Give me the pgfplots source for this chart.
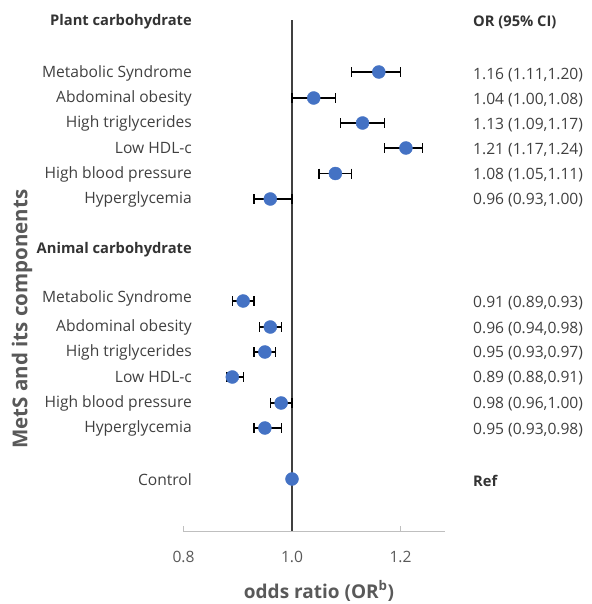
\documentclass[border=0pt]{standalone}
\usepackage{fontspec}
\setmainfont{Open Sans}
\usepackage{pgfplots}
\pgfplotsset{compat=1.18}
\usepackage{pgfplotstable}
\definecolor{dotblue}{HTML}{4472C4}
\definecolor{txt}{HTML}{404040}
\definecolor{tickc}{HTML}{595959}
\definecolor{axgray}{HTML}{BFBFBF}
\definecolor{vline}{HTML}{404040}
\newcommand\fs{\fontsize{15.6bp}{18bp}\selectfont}
\newcommand\fh{\fontsize{14.7bp}{18bp}\selectfont\bfseries}
\newcommand\fy{\fontsize{20.5bp}{23bp}\selectfont\bfseries}
\newcommand\fx{\fontsize{19bp}{22bp}\selectfont\bfseries}

\pgfplotstableread{
y or lo hi
72 1.16 1.11 1.20
98 1.04 1.00 1.08
123 1.13 1.09 1.17
148 1.21 1.17 1.24
173.5 1.08 1.05 1.11
199 0.96 0.93 1.00
}\plant
\pgfplotstableread{
y or lo hi
301 0.91 0.89 0.93
327 0.96 0.94 0.98
352 0.95 0.93 0.97
377 0.89 0.88 0.91
403 0.98 0.96 1.00
428 0.95 0.93 0.98
}\animal
\pgfplotstableread{
y or
479 1.00
}\control

\begin{document}
\begin{tikzpicture}
\useasboundingbox (-183.5bp,-73bp) rectangle (408.5bp,531bp);
\begin{axis}[
  x=542.5bp, y=1bp,
  xmin=0.8, xmax=1.282,
  ymin=-531, ymax=0,
  clip=false,
  axis x line*=bottom,
  axis y line=none,
  axis line style={axgray, line width=1bp},
  xtick={0.8,1.0,1.2},
  tick align=inside,
  major tick length=5bp,
  major tick style={axgray, line width=1bp},
  xticklabel style={font=\fs, text=tickc, anchor=base, yshift=-31bp},
  xticklabel={\pgfmathprintnumber[fixed,fixed zerofill,precision=1,assume math mode=true]{\tick}},
  ytick=\empty,
  capstyle/.style={only marks, mark=|, mark size=5bp, mark options={black, line width=1.3bp}},
  dotstyle/.style={only marks, mark=*, mark size=6.5bp, mark options={fill=dotblue, draw=dotblue}},
]
\addplot[vline, line width=1.2bp] coordinates {(1,-20) (1,-531)};
% caps
\addplot[capstyle] table[x=lo, y expr=-\thisrow{y}] {\plant};
\addplot[capstyle] table[x=hi, y expr=-\thisrow{y}] {\plant};
\addplot[capstyle] table[x=lo, y expr=-\thisrow{y}] {\animal};
\addplot[capstyle] table[x=hi, y expr=-\thisrow{y}] {\animal};
% bars + points
\addplot[dotstyle,
  error bars/.cd, x dir=both, x explicit, error mark=none, error bar style={black, line width=1.3bp}]
  table[x=or, y expr=-\thisrow{y}, x error plus expr=\thisrow{hi}-\thisrow{or}, x error minus expr=\thisrow{or}-\thisrow{lo}] {\plant};
\addplot[dotstyle,
  error bars/.cd, x dir=both, x explicit, error mark=none, error bar style={black, line width=1.3bp}]
  table[x=or, y expr=-\thisrow{y}, x error plus expr=\thisrow{hi}-\thisrow{or}, x error minus expr=\thisrow{or}-\thisrow{lo}] {\animal};
\addplot[dotstyle] table[x=or, y expr=-\thisrow{y}] {\control};

% left labels
\begin{scope}[every node/.style={anchor=east, text=txt, font=\fs, inner sep=0pt}]
\node[font=\fh, text=black!80] at (axis cs:0.8157,-22) {Plant carbohydrate};
\node at (axis cs:0.8157,-73) {Metabolic Syndrome};
\node at (axis cs:0.8157,-98) {Abdominal obesity};
\node at (axis cs:0.8157,-123) {High triglycerides};
\node at (axis cs:0.8157,-148) {Low HDL-c};
\node at (axis cs:0.8157,-174) {High blood pressure};
\node at (axis cs:0.8157,-199) {Hyperglycemia};
\node[font=\fh, text=black!80] at (axis cs:0.8157,-250) {Animal carbohydrate};
\node at (axis cs:0.8157,-298) {Metabolic Syndrome};
\node at (axis cs:0.8157,-327) {Abdominal obesity};
\node at (axis cs:0.8157,-352) {High triglycerides};
\node at (axis cs:0.8157,-377) {Low HDL-c};
\node at (axis cs:0.8157,-403) {High blood pressure};
\node at (axis cs:0.8157,-428) {Hyperglycemia};
\node at (axis cs:0.8157,-480) {Control};
\end{scope}
% right labels
\begin{scope}[every node/.style={anchor=west, text=txt, font=\fs, inner sep=0pt}]
\node[font=\fh, text=black!80] at (axis cs:1.3336,-22) {OR (95\% CI)};
\node at (axis cs:1.3336,-75) {1.16 (1.11,1.20)};
\node at (axis cs:1.3336,-100) {1.04 (1.00,1.08)};
\node at (axis cs:1.3336,-125) {1.13 (1.09,1.17)};
\node at (axis cs:1.3336,-150) {1.21 (1.17,1.24)};
\node at (axis cs:1.3336,-175) {1.08 (1.05,1.11)};
\node at (axis cs:1.3336,-200) {0.96 (0.93,1.00)};
\node at (axis cs:1.3336,-303) {0.91 (0.89,0.93)};
\node at (axis cs:1.3336,-329) {0.96 (0.94,0.98)};
\node at (axis cs:1.3336,-353) {0.95 (0.93,0.97)};
\node at (axis cs:1.3336,-378) {0.89 (0.88,0.91)};
\node at (axis cs:1.3336,-404) {0.98 (0.96,1.00)};
\node at (axis cs:1.3336,-430) {0.95 (0.93,0.98)};
\node[font=\fh, text=black!80] at (axis cs:1.3336,-481) {Ref};
\end{scope}
\node[font=\fy, text=tickc, rotate=90, anchor=center] at (axis cs:0.5023,-319) {MetS and its components};
\node[font=\fx, text=tickc, anchor=base] at (axis cs:1.0498,-598) {odds ratio (OR\textsuperscript{b})};
\end{axis}
\end{tikzpicture}
\end{document}
